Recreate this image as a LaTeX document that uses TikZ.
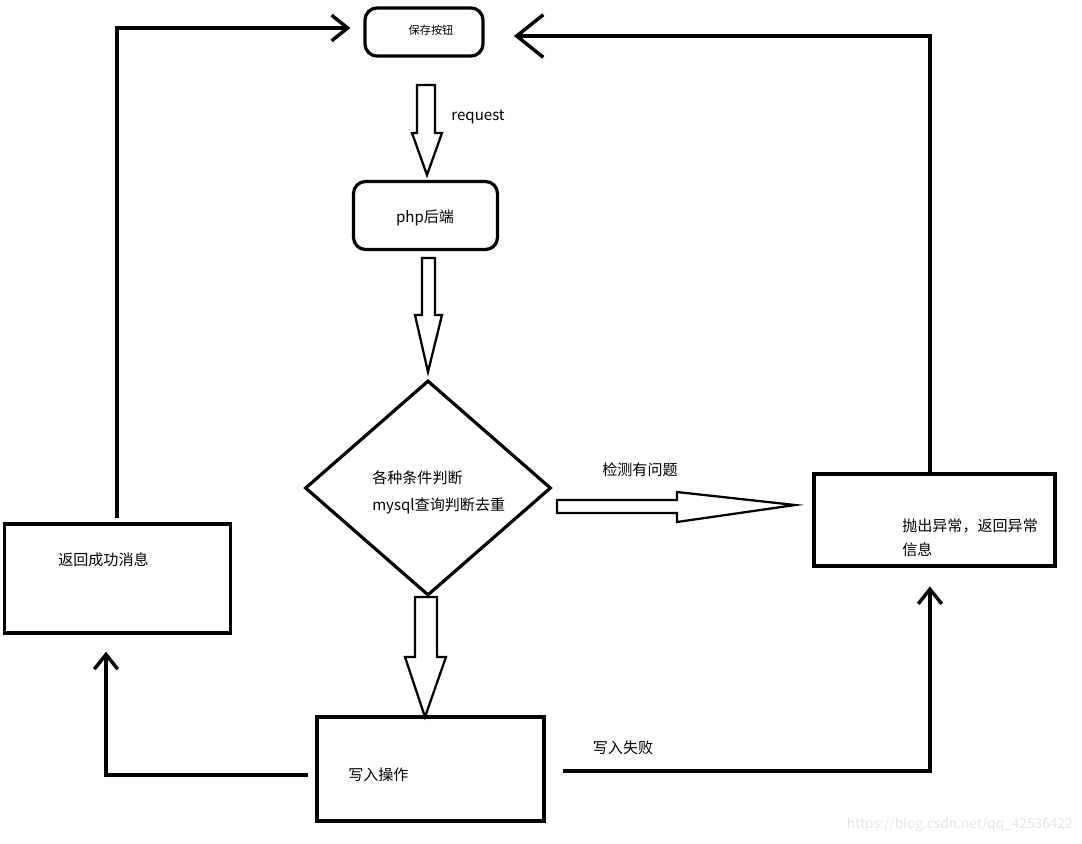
\documentclass[tikz,border=0pt]{standalone}
\usepackage{fontspec}
\setmainfont{Noto Sans CJK SC}
\usetikzlibrary{arrows.meta,shapes.geometric}
\begin{document}
\begin{tikzpicture}[x=0.75pt,y=-0.75pt,
  rbox/.style={draw,line width=2.4pt,rounded corners=9pt},
  lbl/.style={inner sep=0pt,font=\fontsize{11.3}{14}\selectfont},
  conn/.style={line width=2.6pt},
  barb/.style={-{Straight Barb[length=#1,width=1.6*#1,line width=2.6pt]}},
  barb/.default=11pt,
  blk/.style={draw,line width=1.7pt,fill=white,line join=miter}]
\useasboundingbox (0,0) rectangle (1082,843);
% nodes
\node[rbox,minimum width=88.5pt,minimum height=36pt] (btn) at (424,32) {};
\node[lbl,font=\fontsize{8.4}{10}\selectfont] (btnt) at (431,30) {保存按钮};
\node[rbox,minimum width=108pt,minimum height=51pt] (php) at (425.5,215.5) {};
\node[lbl] (phpt) at (425,218) {php后端};
\node[draw,line width=2.4pt,shape=diamond,minimum width=184.5pt,minimum height=161.25pt,inner sep=0pt] (dia) at (428,488) {};
\node[lbl,anchor=west] (d1) at (372,478) {各种条件判断};
\node[lbl,anchor=west] (d2) at (372,506) {mysql查询判断去重};
\node[draw,line width=2.6pt,minimum width=180.75pt,minimum height=69pt] (rb) at (934.5,520) {};
\node[lbl,anchor=west] (rb1) at (902,526) {抛出异常，返回异常};
\node[lbl,anchor=west] (rb2) at (902,550) {信息};
\node[draw,line width=2.6pt,minimum width=170.25pt,minimum height=78pt] (wb) at (430.5,769) {};
\node[lbl,anchor=west] (wbt) at (348,775) {写入操作};
\node[draw,line width=2.6pt,minimum width=169.5pt,minimum height=81.75pt] (lb) at (117.5,578.5) {};
\node[lbl,anchor=west] (lbt) at (58,560) {返回成功消息};
% labels
\node[lbl] (req) at (478,117) {request};
\node[lbl] (chk) at (640,470) {检测有问题};
\node[lbl] (fail) at (623,748) {写入失败};
\node[inner sep=0pt,anchor=east,text=gray!20,font=\fontsize{10.3}{12}\selectfont] (wm) at (1073,825) {https://blog.csdn.net/qq\_42536422};
% block arrows
\draw[blk] (417,85) -- (435,85) -- (435,133) -- (442,133) -- (427,175) -- (412,133) -- (417,133) -- cycle;
\draw[blk] (422,258) -- (435,258) -- (435,315) -- (442,315) -- (428,372) -- (415,315) -- (422,315) -- cycle;
\draw[blk] (415,597) -- (437,597) -- (437,657) -- (446,657) -- (425,717) -- (405,657) -- (415,657) -- cycle;
\draw[blk] (557,500) -- (677,500) -- (677,492) -- (795,505) -- (677,522) -- (677,513) -- (557,513) -- cycle;
% connectors
\draw[conn,barb=12pt] ([xshift=-0.4pt,yshift=3pt]lb.north) |- ([xshift=-9.75pt,yshift=3pt]btn.west);
\draw[conn,barb=20pt] ([xshift=-3.4pt]rb.north) |- ([xshift=22pt,yshift=-3pt]btn.east);
\draw[conn,barb=11pt] ([xshift=-5.25pt,yshift=-4.5pt]wb.west) -| ([xshift=-8.6pt,yshift=-12.75pt]lb.south);
\draw[conn,barb=11pt] ([xshift=12.75pt,yshift=-1.5pt]wb.east) -| ([xshift=-3.4pt,yshift=-14pt]rb.south);
\end{tikzpicture}
\end{document}
